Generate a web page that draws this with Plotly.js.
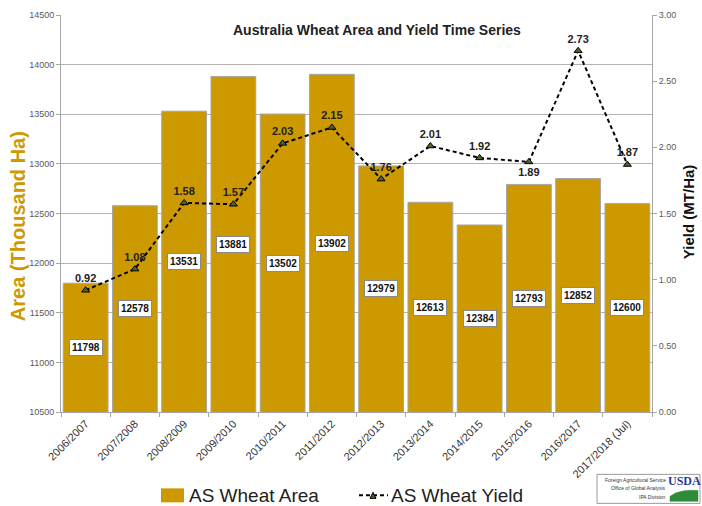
<!DOCTYPE html>
<html><head><meta charset="utf-8">
<script src="https://cdn.plot.ly/plotly-3.0.1.min.js"></script>
<style>html,body{margin:0;padding:0;background:#fff}#c{width:702px;height:506px}</style>
</head><body><div id="c"></div>
<script>
const years = ['2006/2007','2007/2008','2008/2009','2009/2010','2010/2011','2011/2012','2012/2013','2013/2014','2014/2015','2015/2016','2016/2017','2017/2018 (Jul)'];
const area = [11798,12578,13531,13881,13502,13902,12979,12613,12384,12793,12852,12600];
const yieldV = [0.92,1.08,1.58,1.57,2.03,2.15,1.76,2.01,1.92,1.89,2.73,1.87];
const yieldPos = ['top center','top center','top center','top center','top center','top center','top center','top center','top center','bottom center','top center','top center'];
const areaMin = 10500, areaMax = 14500;
const seriesNames = ['AS Wheat Area','AS Wheat Yield'];

const gold = '#CC9900';
const fnt = 'Liberation Sans, Arial, sans-serif';

const traces = [
  {type:'bar', x:years, y:area, name:seriesNames[0], yaxis:'y', showlegend:false,
   marker:{color:gold, line:{color:'#a6a6a6', width:1}}, hoverinfo:'skip'},
  {type:'scatter', mode:'lines+markers+text', x:years, y:yieldV, name:seriesNames[1], yaxis:'y2', showlegend:false,
   line:{color:'#000', width:2, dash:'4px,3px'},
   marker:{symbol:'triangle-up', size:7, color:'#4F6228', line:{color:'#000', width:1}},
   text:yieldV.map(v=>v.toFixed(2)), textposition:yieldPos,
   textfont:{family:fnt, size:11, color:'#222', weight:'bold'}, cliponaxis:false}
];

const L=61, R=652, T=15, B=411.7;
const px = x=>(x-L)/(R-L), py = y=>(B-y)/(B-T);
const ann = (x,y,text,font,extra)=>Object.assign({xref:'paper', yref:'paper', x:px(x), y:py(y), text, showarrow:false,
  xanchor:'center', yanchor:'middle', font}, extra||{});

const annotations = area.map((v,i)=>({
  x:years[i], y:(areaMin+v)/2, xref:'x', yref:'y', text:'<b>'+v+'</b>', showarrow:false,
  font:{family:fnt, size:10, color:'#111'}, bgcolor:'#fff', bordercolor:'#8a8a8a', borderwidth:1, borderpad:2
}));
annotations.push(ann(377,30,'<b>Australia Wheat Area and Yield Time Series</b>',{family:fnt, size:14, color:'#222'}));
// axis titles
annotations.push(ann(18,226,'<b>Area (Thousand Ha)</b>',{family:fnt, size:20, color:gold},{textangle:-90}));
annotations.push(ann(688,212,'<b>Yield (MT/Ha)</b>',{family:fnt, size:15, color:'#111'},{textangle:-90}));
// legend texts
annotations.push(ann(187,495,seriesNames[0],{family:fnt, size:19, color:'#222'},{xanchor:'left'}));
annotations.push(ann(389,495,seriesNames[1],{family:fnt, size:19, color:'#222'},{xanchor:'left'}));
// logo texts
const logoLines = ['Foreign Agricultural Service','Office of Global Analysis','IPA Division'];
logoLines.forEach((t,i)=>annotations.push(ann(667,479.5+i*8.5,t,{family:fnt, size:5, color:'#333'},{xanchor:'right', borderpad:0})));
annotations.push(ann(684,481,'<b>USDA</b>',{family:'Liberation Serif, serif', size:12, color:'#1f3a93'},{borderpad:0}));

const swoosh = [[670,501],[670,496],[676,492.5],[684,490.5],[691,489.8],[698,490.2],[698,501]];
const shapes = [
  // legend keys
  {type:'rect', xref:'paper', yref:'paper', x0:px(161), x1:px(184), y0:py(502), y1:py(488), fillcolor:gold, line:{width:0}},
  {type:'line', xref:'paper', yref:'paper', x0:px(359), x1:px(388), y0:py(495), y1:py(495), line:{color:'#000', width:2, dash:'4px,3px'}},
  {type:'path', xref:'paper', yref:'paper', path:`M ${px(370)},${py(498)} L ${px(376)},${py(498)} L ${px(373)},${py(492)} Z`,
   fillcolor:'#4F6228', line:{color:'#000', width:1}},
  // logo
  {type:'rect', xref:'paper', yref:'paper', x0:px(597), x1:px(700), y0:py(503), y1:py(474), line:{color:'#9a9a9a', width:1}, fillcolor:'#fff'},
  {type:'path', xref:'paper', yref:'paper',
   path:'M ' + swoosh.map(p=>px(p[0])+','+py(p[1])).join(' L ') + ' Z',
   fillcolor:'#2e8b3a', line:{color:'#2e8b3a', width:0.5}}
];

const layout = {
  width:702, height:506, paper_bgcolor:'#fff', plot_bgcolor:'#fff',
  margin:{l:L, r:702-R, t:T, b:506-B, autoexpand:false},
  showlegend:false,
  bargap:0.09,
  xaxis:{type:'category', range:[-0.5, years.length-0.5], tickangle:-45, tickfont:{family:fnt, size:11, color:'#333'}, automargin:false,
    showline:true, linecolor:'#a6a6a6', ticks:'outside', tickson:'boundaries', ticklen:4, tickcolor:'#a6a6a6',
    showgrid:false, fixedrange:true},
  yaxis:{range:[areaMin, areaMax], dtick:500, tick0:10500, tickformat:'d', showgrid:true, gridcolor:'#b3b3b3', gridwidth:1,
    showline:true, linecolor:'#a6a6a6', ticks:'outside', ticklen:4, tickcolor:'#a6a6a6', automargin:false,
    tickfont:{family:fnt, size:9, color:'#595959'}, zeroline:false},
  yaxis2:{overlaying:'y', side:'right', range:[0,3], dtick:0.5, tickformat:'.2f', showgrid:false, automargin:false,
    showline:true, linecolor:'#a6a6a6', ticks:'outside', ticklen:4, tickcolor:'#a6a6a6',
    tickfont:{family:fnt, size:9, color:'#595959'}, zeroline:false},
  annotations, shapes
};
Plotly.newPlot('c', traces, layout, {displayModeBar:false, staticPlot:true});
</script></body></html>
